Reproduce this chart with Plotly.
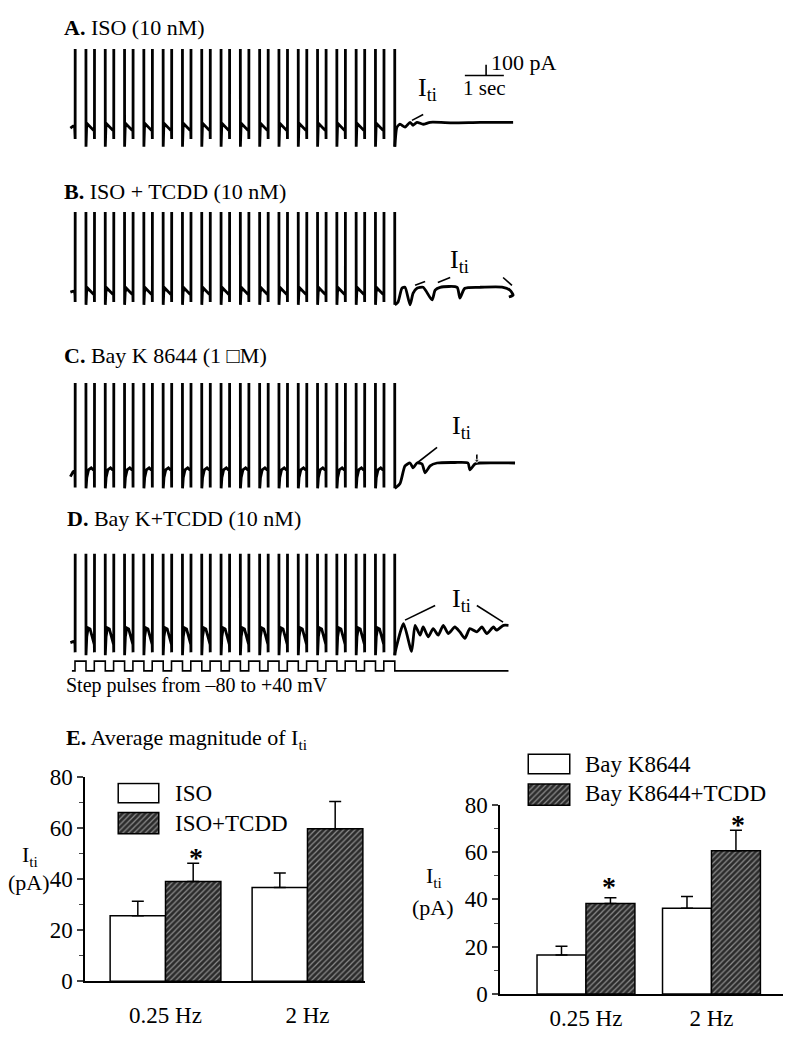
import plotly.graph_objects as go

W, H = 800, 1049
FONT = "Liberation Serif, Times New Roman, serif"
DARK = "#2b2b2b"
HATCH = "#8e8e8e"

# stimulation protocol: train of steps from -80 to +40 mV (s)
pulse_onsets = [0.0, 0.5, 1.0, 1.5, 2.0, 2.5, 3.0, 3.5, 4.0,
                4.5, 5.0, 5.5, 6.0, 6.5, 7.0, 7.5, 8.0]
pulse_width = 0.285
step_levels = [-80, 40]  # mV
step_end = 11.23

# one stimulation cycle for each record, time from onset (s), current (pA)
a_pre_t = [-0.12, -0.05, -0.01, 0.0]
a_pre_i = [-60, -40, -40, -90]
a_cycle_t = [0.000, 0.004, 0.008, 0.280, 0.285, 0.292, 0.300, 0.330, 0.400, 0.480]
a_cycle_i = [-90, -170, 3000, 3000, -250, -120, -50, -20, -50, -80]

b_pre_t = [-0.12, -0.05, -0.01, 0.0]
b_pre_i = [-50, -40, -50, -80]
b_cycle_t = [0.000, 0.004, 0.008, 0.280, 0.285, 0.292, 0.300, 0.330, 0.400, 0.480]
b_cycle_i = [-80, -150, 3000, 3000, -180, -110, -50, -10, -40, -70]

c_pre_t = [-0.12, -0.05, -0.01, 0.0]
c_pre_i = [-140, -90, -80, -80]
c_cycle_t = [0.000, 0.004, 0.008, 0.280, 0.285, 0.292, 0.305, 0.350, 0.420, 0.480]
c_cycle_i = [-80, -250, 3000, 3000, -260, -230, -150, -70, -50, -70]

d_pre_t = [-0.12, -0.05, -0.01, 0.0]
d_pre_i = [-60, -50, -60, -80]
d_cycle_t = [0.000, 0.004, 0.008, 0.280, 0.285, 0.292, 0.305, 0.340, 0.390, 0.480]
d_cycle_i = [-80, -160, 3000, 3000, -190, -120, 0, 90, 80, -60]

# current after the train (transient inward current, Iti)
a_tail_t = [8.30, 8.34, 8.42, 8.55, 8.68, 8.76, 8.86, 9.02, 9.20, 9.80, 10.50, 11.35]
a_tail_i = [-170, -50, -20, -50, 0, -30, 0, -20, 0, -5, 0, 0]

b_tail_t = [8.37, 8.47, 8.55, 8.68, 8.76, 8.86, 9.02, 9.25, 9.33, 9.46, 9.90,
            9.97, 10.10, 10.49, 11.09, 11.27, 11.35, 11.24]
b_tail_i = [-150, -10, 0, -180, -60, -10, 0, -130, -30, 0, 0,
            -110, -10, 0, 0, -30, -80, -100]

c_tail_t = [8.42, 8.55, 8.68, 8.76, 8.86, 8.99, 9.07, 9.20, 9.38, 9.84,
            10.18, 10.23, 10.36, 10.49, 11.40]
c_tail_i = [-210, -30, 0, -50, 0, -10, -100, -30, 0, 5, 0, -70, -10, 0, 0]

d_tail_t = [8.29, 8.51, 8.72, 8.81, 8.94, 9.02, 9.15, 9.28, 9.41, 9.54, 9.67,
            9.84, 9.97, 10.10, 10.23, 10.41, 10.54, 10.67, 10.84, 10.92, 11.10, 11.23]
d_tail_i = [-170, 133, -150, 117, 17, 100, 0, 83, 17, 117, 33,
            100, 50, -17, 83, 50, 100, 33, 100, 67, 117, 117]

# bar chart data (pA, mean and SEM)
freq_labels = ["0.25 Hz", "2 Hz"]
iso_mean = [25.7, 36.8]
iso_sem = [5.7, 5.7]
iso_tcdd_mean = [39.1, 59.8]
iso_tcdd_sem = [7.2, 10.7]
bay_mean = [16.5, 36.2]
bay_sem = [3.7, 5.0]
bay_tcdd_mean = [38.2, 60.5]
bay_tcdd_sem = [2.5, 8.7]


def dom_x(x0, x1):
    return [x0 / W, x1 / W]


def dom_y(top, bottom):
    return [1 - bottom / H, 1 - top / H]


def build_trace(pre_t, pre_i, cyc_t, cyc_i):
    xs, ys = list(pre_t), list(pre_i)
    for k, t0 in enumerate(pulse_onsets):
        n = 5 if k == len(pulse_onsets) - 1 else len(cyc_t)
        for dt, cur in zip(cyc_t[:n], cyc_i[:n]):
            xs.append(t0 + dt)
            ys.append(cur)
    return xs, ys


fig = go.Figure()

# ---- current records A-D
PX_PER_S = 38.6
trace_xrange = [(60 - 75) / PX_PER_S, (530 - 75) / PX_PER_S]
panel_geom = [(38, 150, 113), (205, 315, 282), (380, 495, 462), (555, 662, 640)]
records = [
    (a_pre_t, a_pre_i, a_cycle_t, a_cycle_i, a_tail_t, a_tail_i),
    (b_pre_t, b_pre_i, b_cycle_t, b_cycle_i, b_tail_t, b_tail_i),
    (c_pre_t, c_pre_i, c_cycle_t, c_cycle_i, c_tail_t, c_tail_i),
    (d_pre_t, d_pre_i, d_cycle_t, d_cycle_i, d_tail_t, d_tail_i),
]
line = dict(color="black", width=2.8)
for n, (rec, geom) in enumerate(zip(records, panel_geom), start=1):
    pre_t, pre_i, cyc_t, cyc_i, tail_t, tail_i = rec
    top, bottom, base = geom
    xs, ys = build_trace(pre_t, pre_i, cyc_t, cyc_i)
    sfx = "" if n == 1 else str(n)
    fig.add_trace(go.Scatter(x=xs, y=ys, mode="lines", line=line,
                             xaxis="x" + sfx, yaxis="y" + sfx, showlegend=False))
    fig.add_trace(go.Scatter(x=[xs[-1]] + tail_t, y=[ys[-1]] + tail_i, mode="lines",
                             line=dict(color="black", width=2.8, shape="spline", smoothing=0.6),
                             xaxis="x" + sfx, yaxis="y" + sfx, showlegend=False))
    fig.layout["xaxis" + sfx] = dict(domain=dom_x(60, 530), range=trace_xrange,
                                     visible=False, anchor="y" + sfx)
    fig.layout["yaxis" + sfx] = dict(domain=dom_y(top, bottom),
                                     range=[(base - bottom) * 10, (base - top) * 10],
                                     visible=False, anchor="x" + sfx)

# Iti pointer lines
thin = dict(color="black", width=1.6)
iti_marks = [
    ("", [8.73, 9.02], [20, 80]),
    ("2", [8.81, 9.07], [20, 60]),
    ("2", [9.40, 9.72], [50, 100]),
    ("2", [11.09, 11.32], [100, 20]),
    ("3", [8.86, 9.38], [0, 160]),
    ("4", [8.55, 9.33], [170, 320]),
    ("4", [10.41, 11.09], [320, 150]),
]
for sfx, mx, my in iti_marks:
    fig.add_trace(go.Scatter(x=mx, y=my, mode="lines", line=thin,
                             xaxis="x" + sfx, yaxis="y" + sfx, showlegend=False))
fig.add_trace(go.Scatter(x=[10.41, 10.41], y=[90, 25], mode="lines+markers", line=thin,
                         marker=dict(symbol=["line-ew", "triangle-down"], size=[1, 5], color="black"),
                         xaxis="x3", yaxis="y3", showlegend=False))

# scale bar (1 s, 100 pA)
fig.add_trace(go.Scatter(x=[10.10, 11.11, None, 10.65, 10.65], y=[480, 480, None, 480, 590],
                         mode="lines", line=dict(color="black", width=1.6),
                         xaxis="x", yaxis="y", showlegend=False))

# step protocol
sx, sy = [-0.08], [step_levels[0]]
for t0 in pulse_onsets:
    sx += [t0, t0, t0 + pulse_width, t0 + pulse_width]
    sy += [step_levels[0], step_levels[1], step_levels[1], step_levels[0]]
sx.append(step_end)
sy.append(step_levels[0])
fig.add_trace(go.Scatter(x=sx, y=sy, mode="lines", line=dict(color="black", width=1.6),
                         xaxis="x5", yaxis="y5", showlegend=False))
fig.layout["xaxis5"] = dict(domain=dom_x(60, 530), range=trace_xrange, visible=False, anchor="y5")
fig.layout["yaxis5"] = dict(domain=dom_y(660, 682), range=[-164, 100], visible=False, anchor="x5")

# ---- bar charts E
BW = 0.39
outline = dict(color="black", width=1.5)
hatch = dict(shape="/", fgcolor=HATCH, bgcolor=DARK, size=4, solidity=0.3, fillmode="replace")
err_style = dict(type="data", symmetric=False, color="black", thickness=1.5, width=6)
bar_sets = [
    ("x6", "y6", iso_mean, iso_sem, iso_tcdd_mean, iso_tcdd_sem),
    ("x7", "y7", bay_mean, bay_sem, bay_tcdd_mean, bay_tcdd_sem),
]
for xa, ya, m1, s1, m2, s2 in bar_sets:
    fig.add_trace(go.Bar(x=[0, 1], y=m1, width=BW, offset=-BW,
                         marker=dict(color="white", line=outline),
                         error_y=dict(array=s1, arrayminus=[0, 0], **err_style),
                         xaxis=xa, yaxis=ya, showlegend=False))
    fig.add_trace(go.Bar(x=[0, 1], y=m2, width=BW, offset=0,
                         marker=dict(color=DARK, line=outline, pattern=hatch),
                         error_y=dict(array=s2, arrayminus=[0, 0], **err_style),
                         xaxis=xa, yaxis=ya, showlegend=False))

tick_font = dict(family=FONT, size=23, color="black")
for sfx, xd, yd, xr, standoff in [("6", (85, 365), (784, 993), [-0.567, 1.405], 12),
                                  ("7", (500, 783), (812, 1006), [-0.685, 1.570], 3)]:
    fig.layout["xaxis" + sfx] = dict(domain=dom_x(*xd), range=xr, tickvals=[0, 1],
                                     ticktext=freq_labels, ticks="", showline=True,
                                     linecolor="black", linewidth=1.5, showgrid=False,
                                     zeroline=False, tickfont=tick_font,
                                     ticklabelstandoff=standoff, anchor="y" + sfx)
    fig.layout["yaxis" + sfx] = dict(domain=dom_y(*yd), range=[0, 80], dtick=20,
                                     ticks="outside", ticklen=6, tickwidth=1.5,
                                     minor=dict(dtick=10, ticks="outside", ticklen=4, tickwidth=1.2),
                                     showline=True, linecolor="black", linewidth=1.5,
                                     showgrid=False, zeroline=False, tickfont=tick_font,
                                     anchor="x" + sfx)

# legend swatches
for sfx, xd, yd in [("8", (117, 160), (789, 843)), ("9", (527, 571), (759, 814))]:
    fig.add_trace(go.Bar(x=[1], y=[1], orientation="h", width=0.64, offset=-0.32,
                         marker=dict(color="white", line=outline),
                         xaxis="x" + sfx, yaxis="y" + sfx, showlegend=False))
    fig.add_trace(go.Bar(x=[1], y=[0], orientation="h", width=0.70, offset=-0.35,
                         marker=dict(color=DARK, line=outline, pattern=hatch),
                         xaxis="x" + sfx, yaxis="y" + sfx, showlegend=False))
    fig.layout["xaxis" + sfx] = dict(domain=dom_x(*xd), range=[-0.03, 1.03],
                                     visible=False, anchor="y" + sfx)
    fig.layout["yaxis" + sfx] = dict(domain=dom_y(*yd), range=[-0.39, 1.36],
                                     visible=False, anchor="x" + sfx)

# ---- text
ann = []


def txt(text, x, y, size, xref="paper", yref="paper", xanchor="left"):
    if xref == "paper":
        x = x / W
    if yref == "paper":
        y = 1 - y / H
    ann.append(dict(text=text, x=x, y=y, xref=xref, yref=yref, xanchor=xanchor,
                    yanchor="middle", showarrow=False,
                    font=dict(family=FONT, size=size, color="black")))


txt("<b>A.</b> ISO (10 nM)", 62, 16, 22)
txt("<b>B.</b> ISO + TCDD (10 nM)", 62, 184, 22)
txt("<b>C.</b> Bay K 8644 (1 \u25a1M)", 62, 352, 22)
txt("<b>D.</b> Bay K+TCDD (10 nM)", 65, 519, 22)
txt("Step pulses from \u201380 to +40 mV", 64, 690, 20)
txt("<b>E.</b> Average magnitude of I<sub>ti</sub>", 64, 745, 22)

txt("100 pA", 10.72, 610, 22, "x", "y")
txt("1 sec", 10.6, 350, 21, "x", "y", "center")
txt("I<sub>ti</sub>", 9.12, 340, 26, "x", "y", "center")
txt("I<sub>ti</sub>", 9.97, 270, 26, "x2", "y2", "center")
txt("I<sub>ti</sub>", 10.0, 370, 26, "x3", "y3", "center")
txt("I<sub>ti</sub>", 10.0, 380, 26, "x4", "y4", "center")

txt("ISO", 173, 801, 23)
txt("ISO+TCDD", 173, 831, 23)
txt("Bay K8644", 583, 771, 23)
txt("Bay K8644+TCDD", 583, 801, 23)

txt("I<sub>ti</sub>", 30, 865, 22, xanchor="center")
txt("(pA)", 29, 892, 22, xanchor="center")
txt("I<sub>ti</sub>", 434, 886, 22, xanchor="center")
txt("(pA)", 433, 917, 22, xanchor="center")

txt("<b>*</b>", 0.215, 48.5, 28, "x6", "y6", "center")
txt("<b>*</b>", 0.183, 45.5, 28, "x7", "y7", "center")
txt("<b>*</b>", 1.215, 71.5, 28, "x7", "y7", "center")

fig.update_layout(width=W, height=H, margin=dict(l=0, r=0, t=0, b=0),
                  paper_bgcolor="white", plot_bgcolor="rgba(0,0,0,0)",
                  barmode="overlay", annotations=ann,
                  font=dict(family=FONT, color="black"))

fig.write_html("out.html", config={"displayModeBar": False},
               post_script="document.body.style.margin='0';"
                           "document.body.style.overflow='hidden';"
                           "document.documentElement.style.overflow='hidden';")
